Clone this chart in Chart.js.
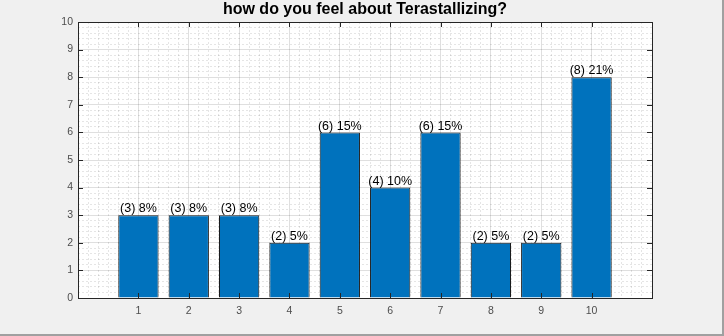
<!DOCTYPE html>
<html>
<head>
<meta charset="utf-8">
<script src="https://cdn.jsdelivr.net/npm/chart.js@4/dist/chart.umd.min.js"></script>
<style>
  html, body { margin: 0; padding: 0; background: #f0f0f0; }
  .frame {
    width: 722px; height: 334px;
    border-right: 2px solid #a0a0a0;
    border-bottom: 2px solid #a0a0a0;
    position: relative;
  }
  canvas { display: block; }
</style>
</head>
<body>
<div class="frame"><canvas id="graph" width="722" height="334"></canvas></div>
<script>
// data
const chartTitle = 'how do you feel about Terastallizing?';
const categories = [1, 2, 3, 4, 5, 6, 7, 8, 9, 10];
const counts = [3, 3, 3, 2, 6, 4, 6, 2, 2, 8];
const percents = ['8%', '8%', '8%', '5%', '15%', '10%', '15%', '5%', '5%', '21%'];
const yTicks = [0, 1, 2, 3, 4, 5, 6, 7, 8, 9, 10];

const X_MIN = -0.2, X_MAX = 11.2;
const Y_MIN = 0, Y_MAX = 10;
const axisColor = '#262626';
const font = 'Liberation Sans, Arial, Helvetica, sans-serif';

const points = categories.map((c, i) => ({ x: c, y: counts[i] }));
const barLabels = counts.map((n, i) => '(' + n + ') ' + percents[i]);

// white axes background
const axesBackground = {
    id: 'axesBackground',
    beforeDraw(chart) {
        const { ctx, chartArea: a } = chart;
        ctx.save();
        ctx.fillStyle = '#fff';
        ctx.fillRect(a.left, a.top, a.right - a.left, a.bottom - a.top);
        ctx.restore();
    }
};

// box, inward tick marks, and value labels over the bars
const matlabAxes = {
    id: 'matlabAxes',
    afterDatasetsDraw(chart) {
        const { ctx, chartArea: a, scales: { x, y } } = chart;
        ctx.save();
        ctx.strokeStyle = axisColor;
        ctx.lineWidth = 1;
        ctx.beginPath();
        categories.forEach((c) => {
            const px = Math.round(x.getPixelForValue(c)) + 0.5;
            ctx.moveTo(px, a.bottom); ctx.lineTo(px, a.bottom - 5);
            ctx.moveTo(px, a.top); ctx.lineTo(px, a.top + 5);
        });
        yTicks.forEach((v) => {
            const py = Math.round(y.getPixelForValue(v)) + 0.5;
            ctx.moveTo(a.left, py); ctx.lineTo(a.left + 5, py);
            ctx.moveTo(a.right, py); ctx.lineTo(a.right - 5, py);
        });
        ctx.stroke();
        ctx.strokeRect(Math.round(a.left) + 0.5, Math.round(a.top) + 0.5,
            Math.round(a.right - a.left), Math.round(a.bottom - a.top));

        const meta = chart.getDatasetMeta(0);
        ctx.fillStyle = '#000';
        ctx.font = '12.5px ' + font;
        ctx.textAlign = 'center';
        ctx.textBaseline = 'bottom';
        meta.data.forEach((bar, i) => {
            ctx.fillText(barLabels[i], bar.x, bar.y);
        });
        ctx.restore();
    }
};

const minorGrid = {
    color: 'rgba(38,38,38,0.12)',
    lineWidth: 1,
    drawTicks: false,
    offset: false
};

new Chart(document.getElementById('graph'), {
    type: 'bar',
    data: {
        datasets: [{
            data: points,
            xAxisID: 'x',
            yAxisID: 'y',
            backgroundColor: '#0072BD',
            borderColor: '#1a1a1a',
            borderWidth: 1,
            categoryPercentage: 1,
            barPercentage: 0.8
        }]
    },
    options: {
        responsive: false,
        animation: false,
        layout: { padding: { left: 0, right: 70, top: 0, bottom: 0 } },
        plugins: {
            legend: { display: false },
            tooltip: { enabled: false },
            title: {
                display: true,
                fullSize: false,
                text: chartTitle,
                color: '#000',
                font: { family: font, size: 16, weight: 'bold', lineHeight: 1.2 },
                padding: { top: 0, bottom: 2.8 }
            }
        },
        scales: {
            x: {
                type: 'linear', position: 'bottom', min: X_MIN, max: X_MAX, offset: false,
                ticks: {
                    stepSize: 1, includeBounds: false, autoSkip: false, maxRotation: 0,
                    color: '#4d4d4d', font: { family: font, size: 10.5 }, padding: 7,
                    callback: (v) => categories.includes(v) ? String(v) : ''
                },
                grid: {
                    drawTicks: false, offset: false,
                    color: (c) => categories.includes(c.tick && c.tick.value) ? 'rgba(38,38,38,0.15)' : 'rgba(0,0,0,0)'
                },
                border: { display: false },
                afterFit: (s) => { s.height = 36; }
            },
            y: {
                type: 'linear', position: 'left', min: Y_MIN, max: Y_MAX,
                ticks: {
                    stepSize: 1, color: '#4d4d4d', font: { family: font, size: 10.5 }, padding: 5
                },
                grid: { drawTicks: false, color: 'rgba(38,38,38,0.15)' },
                border: { display: false },
                afterFit: (s) => { s.width = 78; }
            },
            xMinor: {
                type: 'linear', position: 'bottom', min: X_MIN, max: X_MAX, z: -1, offset: false,
                ticks: { display: false, stepSize: 0.2, includeBounds: false },
                border: { display: false, dash: [2, 2] },
                grid: minorGrid,
                afterBuildTicks: (s) => { s.ticks = s.ticks.filter((t) => Math.abs(t.value - Math.round(t.value)) > 0.01 || !categories.includes(Math.round(t.value))); }
            },
            yMinor: {
                type: 'linear', position: 'left', min: Y_MIN, max: Y_MAX, z: -1,
                ticks: { display: false, stepSize: 0.2, includeBounds: false },
                border: { display: false, dash: [2, 2] },
                grid: minorGrid,
                afterBuildTicks: (s) => { s.ticks = s.ticks.filter((t) => Math.abs(t.value - Math.round(t.value)) > 0.01); }
            }
        }
    },
    plugins: [axesBackground, matlabAxes]
});
</script>
</body>
</html>
